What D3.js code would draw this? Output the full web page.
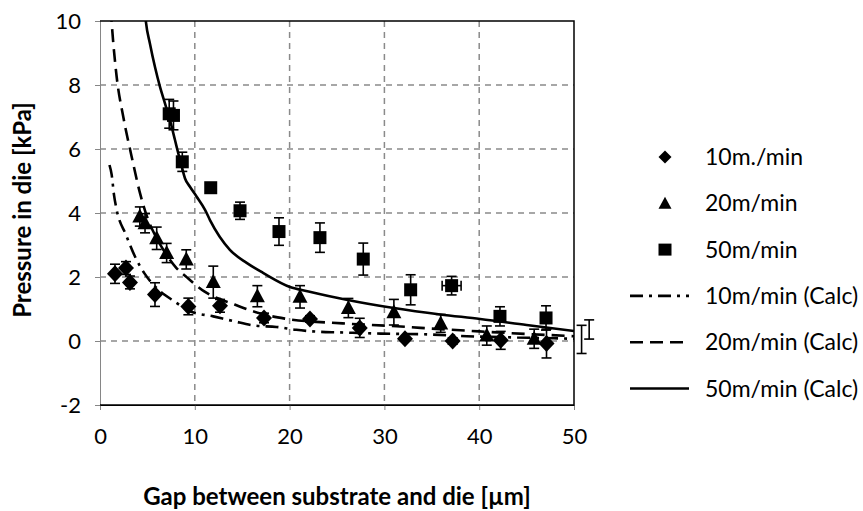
<!DOCTYPE html>
<html>
<head>
<meta charset="utf-8">
<script src="https://cdn.jsdelivr.net/npm/d3@7"></script>
<style>
  html, body { margin: 0; padding: 0; background: #fff; }
  svg { display: block; font-family: Lato, "Open Sans", sans-serif; }
</style>
</head>
<body>
<svg id="chart" width="863" height="511"></svg>
<script>
// ---- data ----
const xTicks = [0, 10, 20, 30, 40, 50];
const yTicks = [-2, 0, 2, 4, 6, 8, 10];

// measured 10 m/min (diamonds)
const x10 = [1.58, 2.74, 3.16, 5.8, 9.32, 12.66, 17.3, 22.15, 27.4, 32.17, 37.2, 42.27, 47.1, 50.8];
const y10 = [2.1, 2.28, 1.83, 1.45, 1.08, 1.1, 0.72, 0.69, 0.41, 0.07, 0.0, 0.02, -0.08, 0.05];
const e10 = [0.3, 0.2, 0.2, 0.37, 0.26, 0.2, 0.15, 0.1, 0.3, 0.05, 0.1, 0.28, 0.45, 0.44];

// measured 20 m/min (triangles)
const x20 = [4.2, 4.75, 5.98, 7.03, 9.1, 11.95, 16.6, 21.1, 26.2, 31.0, 35.94, 40.8, 45.8, 51.6];
const y20 = [3.89, 3.68, 3.21, 2.75, 2.55, 1.84, 1.4, 1.38, 1.03, 0.9, 0.55, 0.17, 0.07, 0.36];
const e20 = [0.3, 0.3, 0.35, 0.3, 0.3, 0.5, 0.33, 0.35, 0.3, 0.4, 0.28, 0.3, 0.3, 0.3];

// measured 50 m/min (squares)
const x50 = [7.3, 7.75, 8.68, 11.68, 14.77, 18.88, 23.2, 27.77, 32.77, 37.09, 42.19, 47.05];
const y50 = [7.1, 7.05, 5.6, 4.79, 4.07, 3.42, 3.23, 2.56, 1.6, 1.73, 0.77, 0.72];
const e50 = [0.45, 0.45, 0.3, 0.05, 0.27, 0.43, 0.46, 0.5, 0.47, 0.29, 0.3, 0.38];
const xe50 = [0, 0, 0, 0, 0, 0, 0, 0, 0, 1.0, 0, 0];

// calculated curves
const calc10X = [1.0, 1.23, 1.48, 1.76, 2.74, 3.69, 4.67, 6.0, 7.84, 9.5, 11.95, 14.1, 16.35, 18.6, 20.7, 23, 25.2, 29.6, 34.1, 38.7, 44, 50];
const calc10Y = [5.5, 5.2, 4.56, 4.1, 3.32, 2.64, 2.12, 1.65, 1.24, 0.93, 0.77, 0.62, 0.48, 0.44, 0.35, 0.29, 0.27, 0.23, 0.21, 0.15, 0.11, 0.07];

const calc20X = [1.0, 1.23, 1.76, 2.46, 3.34, 4.22, 5.0, 6.0, 7.0, 8.0, 9.2, 11.0, 14.2, 17.0, 19.5, 25.6, 31.3, 33.8, 40, 45, 50];
const calc20Y = [11.0, 9.96, 8.25, 7.0, 5.76, 4.62, 3.85, 3.2, 2.7, 2.3, 1.98, 1.55, 1.14, 0.85, 0.7, 0.55, 0.46, 0.41, 0.3, 0.22, 0.15];

const calc50X = [4.6, 4.85, 5.27, 5.8, 6.33, 6.86, 7.38, 7.91, 8.26, 8.62, 8.97, 9.49, 10.2, 11.08, 11.6, 13.7, 15.47, 17.2, 20.04, 22, 26, 31, 35.9, 40.1, 45, 50];
const calc50Y = [10.8, 9.96, 9.29, 8.56, 7.94, 7.42, 6.9, 6.28, 5.86, 5.45, 5.08, 4.82, 4.51, 4.1, 3.78, 2.85, 2.44, 2.13, 1.69, 1.55, 1.29, 1.03, 0.83, 0.69, 0.5, 0.31];

const legendLabels = ["10m./min", "20m/min", "50m/min", "10m/min (Calc)", "20m/min (Calc)", "50m/min (Calc)"];
const xTitle = "Gap between substrate and die [µm]";
const yTitle = "Pressure in die [kPa]";

// ---- drawing ----
const svg = d3.select("#chart");
const L = 100, R = 574, T = 21, B = 405;
const x = d3.scaleLinear().domain([0, 50]).range([L, R]);
const y = d3.scaleLinear().domain([-2, 10]).range([B, T]);

svg.append("defs").append("clipPath").attr("id", "plotclip")
  .append("rect").attr("x", L).attr("y", T).attr("width", R - L).attr("height", B - T);

// grid
const grid = svg.append("g");
grid.selectAll("line.v").data(xTicks.filter(d => d > 0 && d < 50)).join("line")
  .attr("x1", d => x(d)).attr("x2", d => x(d)).attr("y1", T).attr("y2", B)
  .attr("stroke", "#8a8a8a").attr("stroke-width", 1.5).attr("stroke-dasharray", "6,5");
grid.selectAll("line.h").data(yTicks.filter(d => d > -2 && d < 10)).join("line")
  .attr("y1", d => y(d)).attr("y2", d => y(d)).attr("x1", L).attr("x2", R)
  .attr("stroke", "#8a8a8a").attr("stroke-width", 1.5).attr("stroke-dasharray", "6,5");

// axes
const fmt = d => String(d);
const yAxis = d3.axisLeft(y).tickValues(yTicks).tickSize(5).tickPadding(14).tickFormat(fmt);
const gy = svg.append("g").attr("transform", `translate(${L},0)`).call(yAxis);
gy.select(".domain").attr("stroke", "#868686");
gy.selectAll(".tick line").attr("stroke", "#868686");
gy.selectAll("text").attr("font-size", 22).attr("fill", "#000").attr("font-family", "Lato, sans-serif");

const xAxis = d3.axisBottom(x).tickValues(xTicks).tickSize(5).tickPadding(18).tickFormat(fmt);
const gx = svg.append("g").attr("transform", `translate(0,${B})`).call(xAxis);
gx.select(".domain").attr("stroke", "#000");
gx.selectAll(".tick line").attr("stroke", "#868686");
gx.selectAll("text").attr("font-size", 22).attr("fill", "#000").attr("font-family", "Lato, sans-serif");

// frame
svg.append("path")
  .attr("d", `M${L},${T}H${R}V${B}H${L}`)
  .attr("fill", "none").attr("stroke", "#000").attr("stroke-width", 1.5);

// curves
const line = d3.line().x(d => x(d[0])).y(d => y(d[1])).curve(d3.curveMonotoneX);
const curves = svg.append("g").attr("clip-path", "url(#plotclip)");
const styles = [
  { xs: calc10X, ys: calc10Y, dash: "13,6,3,6" },
  { xs: calc20X, ys: calc20Y, dash: "13,7" },
  { xs: calc50X, ys: calc50Y, dash: null }
];
styles.forEach(s => {
  curves.append("path")
    .attr("d", line(d3.zip(s.xs, s.ys)))
    .attr("fill", "none").attr("stroke", "#000").attr("stroke-width", 2.6)
    .attr("stroke-dasharray", s.dash);
});

// error bars
function errorBars(xs, ys, es, xes) {
  const g = svg.append("g").attr("stroke", "#000").attr("stroke-width", 1.6);
  xs.forEach((xv, i) => {
    const cx = x(xv), e = es[i];
    if (e > 0) {
      g.append("line").attr("x1", cx).attr("x2", cx).attr("y1", y(ys[i] + e)).attr("y2", y(ys[i] - e));
      g.append("line").attr("x1", cx - 5).attr("x2", cx + 5).attr("y1", y(ys[i] + e)).attr("y2", y(ys[i] + e));
      g.append("line").attr("x1", cx - 5).attr("x2", cx + 5).attr("y1", y(ys[i] - e)).attr("y2", y(ys[i] - e));
    }
    if (xes && xes[i] > 0) {
      const cy = y(ys[i]);
      g.append("line").attr("x1", x(xv - xes[i])).attr("x2", x(xv + xes[i])).attr("y1", cy).attr("y2", cy);
      g.append("line").attr("x1", x(xv - xes[i])).attr("x2", x(xv - xes[i])).attr("y1", cy - 5).attr("y2", cy + 5);
      g.append("line").attr("x1", x(xv + xes[i])).attr("x2", x(xv + xes[i])).attr("y1", cy - 5).attr("y2", cy + 5);
    }
  });
}
errorBars(x10, y10, e10);
errorBars(x20, y20, e20);
errorBars(x50, y50, e50, xe50);

// markers
const markers = svg.append("g").attr("clip-path", "url(#plotclip)");
const symDiamond = "M0,-8.5L8,0L0,8.5L-8,0Z";
const symTriangle = "M0,-8L7.5,6L-7.5,6Z";
const symSquare = "M-6.5,-6.5H6.5V6.5H-6.5Z";
function drawMarkers(xs, ys, path) {
  markers.selectAll(null).data(d3.zip(xs, ys)).join("path")
    .attr("d", path).attr("fill", "#000")
    .attr("transform", d => `translate(${x(d[0])},${y(d[1])})`);
}
drawMarkers(x10, y10, symDiamond);
drawMarkers(x20, y20, symTriangle);
drawMarkers(x50, y50, symSquare);

// axis titles
svg.append("text").attr("x", (L + R) / 2).attr("y", 505).attr("text-anchor", "middle")
  .attr("font-size", 24).attr("font-weight", "bold").attr("font-family", "Lato, sans-serif").text(xTitle);
svg.append("text").attr("transform", `translate(31,${(T + B) / 2 - 3}) rotate(-90)`)
  .attr("text-anchor", "middle").attr("font-size", 24).attr("font-weight", "bold")
  .attr("font-family", "Lato, sans-serif").text(yTitle);

// legend
const leg = svg.append("g");
const legY0 = 157, legDy = 46.3;
legendLabels.forEach((lab, i) => {
  const cy = legY0 + i * legDy;
  if (i < 3) {
    const s = i === 0 ? "M0,-6.5L6.5,0L0,6.5L-6.5,0Z" : i === 1 ? "M0,-6.5L6.5,5.5L-6.5,5.5Z" : "M-6.5,-6H6.5V6H-6.5Z";
    leg.append("path").attr("d", s).attr("fill", "#000").attr("transform", `translate(665,${cy})`);
  } else {
    leg.append("line").attr("x1", 630).attr("x2", 689).attr("y1", cy).attr("y2", cy)
      .attr("stroke", "#000").attr("stroke-width", 2.6)
      .attr("stroke-dasharray", styles[i - 3].dash);
  }
  leg.append("text").attr("x", 705).attr("y", cy).attr("dy", "0.35em")
    .attr("font-size", 23).attr("font-family", "Lato, sans-serif").text(lab);
});
</script>
</body>
</html>
